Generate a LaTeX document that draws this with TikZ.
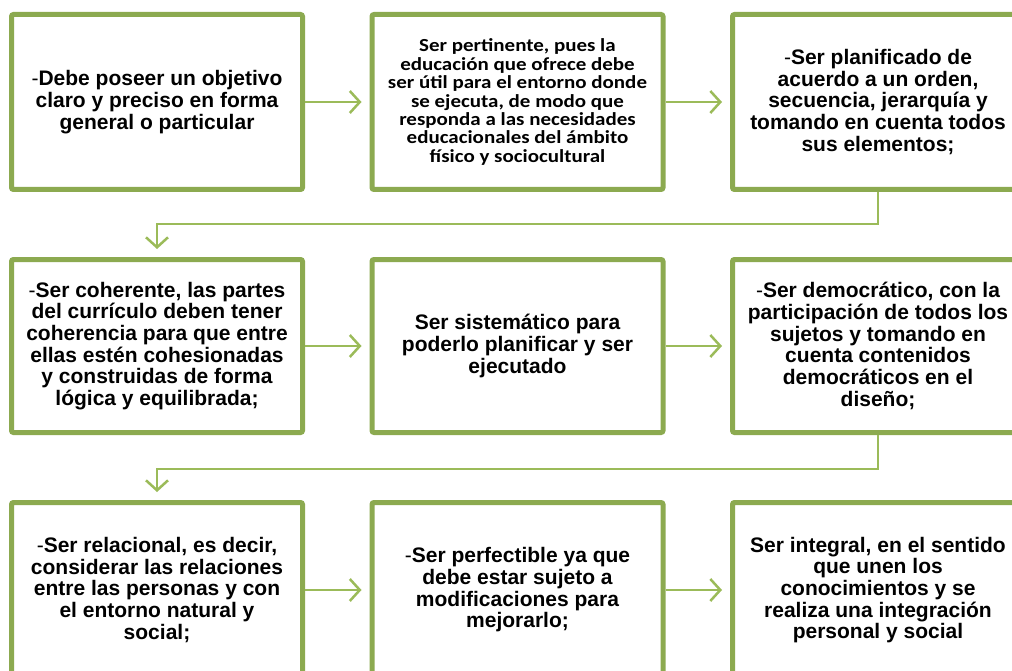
\documentclass[tikz,border=0pt]{standalone}
\usepackage{fontspec}
\setmainfont{Liberation Sans}
\newfontfamily\calib[FakeStretch=1.14]{Carlito}
\usetikzlibrary{arrows.meta}
\definecolor{boxgreen}{HTML}{8CAA50}
\definecolor{arrgreen}{HTML}{9BBB59}
\tikzset{
  box/.style={draw=boxgreen, line width=5pt, rounded corners=2pt, fill=white,
    minimum width=291pt, minimum height=175pt, align=center, inner sep=0pt,
    font=\fontsize{21}{21.7}\selectfont\bfseries},
  calbox/.style={box, font=\calib\fontsize{18.4}{18.4}\selectfont\bfseries},
  conn/.style={draw=arrgreen, line width=2.5pt,
    -{Straight Barb[length=10pt,width=22pt,line width=2.5pt]}, shorten >=8pt},
}
\newcommand{\dsh}{{\mdseries -}}
\begin{document}
\begin{tikzpicture}[x=1pt,y=-1pt]
\useasboundingbox (0,0) rectangle (1012,671);
\clip (0,0) rectangle (1012,671);
\node[box] (b1) at (157,102) {\dsh Debe poseer un objetivo\\claro y preciso en forma\\general o particular};
\node[calbox] (b2) at (517.5,102) {Ser pertinente, pues la\\educación que ofrece debe\\ser útil para el entorno donde\\se ejecuta, de modo que\\responda a las necesidades\\educacionales del ámbito\\físico y sociocultural};
\node[box] (b3) at (878,102) {\dsh Ser planificado  de\\acuerdo a un orden,\\secuencia, jerarquía y\\tomando en cuenta todos\\sus elementos;};
\node[box, minimum height=173pt] (b4) at (157,346) {\dsh Ser coherente, las partes\\del currículo deben tener\\coherencia para que entre\\ellas estén cohesionadas\\y construidas de forma\\lógica y equilibrada;};
\node[box, minimum height=173pt] (b5) at (517.5,346) {Ser sistemático para\\poderlo planificar y ser\\ejecutado};
\node[box, minimum height=173pt] (b6) at (878,346) {\dsh Ser democrático, con la\\participación de todos los\\sujetos y tomando en\\cuenta contenidos\\democráticos en el\\diseño;};
\node[box] (b7) at (157,590) {\dsh Ser relacional, es decir,\\considerar las relaciones\\entre las personas y con\\el entorno natural y\\social;};
\node[box] (b8) at (517.5,590) {\dsh Ser perfectible ya que\\debe estar sujeto a\\modificaciones  para\\mejorarlo;};
\node[box] (b9) at (878,590) {Ser integral, en el sentido\\que unen los\\conocimientos y se\\realiza una integración\\personal y social};
\draw[conn] (b1.east) -- (b2.west);
\draw[conn] (b2.east) -- (b3.west);
\draw[conn] (b3.south) -- ++(0,32) -| (b4.north);
\draw[conn] (b4.east) -- (b5.west);
\draw[conn] (b5.east) -- (b6.west);
\draw[conn] (b6.south) -- ++(0,34) -| (b7.north);
\draw[conn] (b7.east) -- (b8.west);
\draw[conn] (b8.east) -- (b9.west);
\end{tikzpicture}
\end{document}
